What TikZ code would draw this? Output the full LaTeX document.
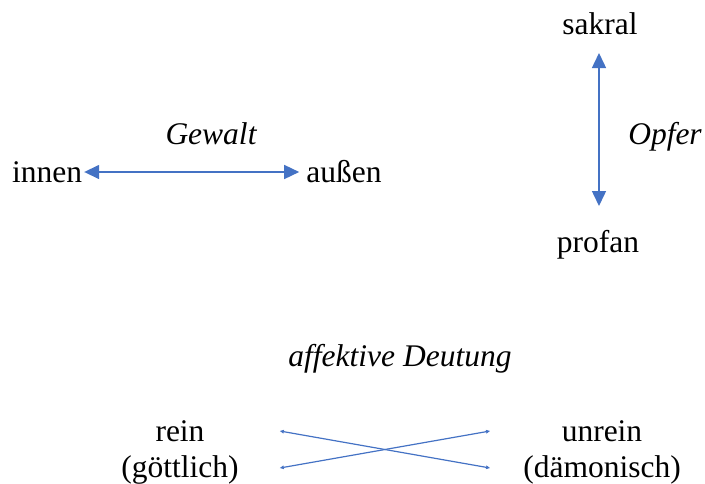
\documentclass[tikz,border=0pt]{standalone}
\usepackage{fontspec}
\setmainfont{Liberation Serif}
\usetikzlibrary{arrows.meta,calc}
\definecolor{officeblue}{HTML}{4472C4}
\begin{document}
\begin{tikzpicture}[x=1pt,y=-1pt,
  lbl/.style={inner sep=0pt,font=\fontsize{31.5}{36}\selectfont},
  ital/.style={lbl,font=\fontsize{31.5}{36}\selectfont\itshape},
  bigarrow/.style={draw=officeblue,line width=1.5pt,{Triangle[length=15pt,width=14pt]}-{Triangle[length=15pt,width=14pt]}},
  smallarrow/.style={draw=officeblue,line width=1.2pt,{Triangle[length=4pt,width=3.5pt]}-{Triangle[length=4pt,width=3.5pt]}}]
\useasboundingbox (0,0) rectangle (705,483);
\node[lbl,anchor=base] (innen) at (47,182) {innen};
\node[lbl,anchor=base] (aussen) at (344,182) {außen};
\node[ital,anchor=base] (gewalt) at (211,144) {Gewalt};
\node[lbl,anchor=base] (sakral) at (600,34) {sakral};
\node[lbl,anchor=base] (profan) at (598,252) {profan};
\node[ital,anchor=base] (opfer) at (665,144) {Opfer};
\node[ital,anchor=base] (deutung) at (400,366) {affektive Deutung};
\node[lbl,align=center] (rein) at (180,452) {rein\\(göttlich)};
\node[lbl,align=center] (unrein) at (602,452) {unrein\\(dämonisch)};
\draw[bigarrow] ($(innen.base east)+(2,-10)$) -- ($(aussen.base west)+(-7,-10)$);
\draw[bigarrow] ($(sakral.base)+(-1,19)$) -- ($(sakral.base)+(-1,172)$);
\draw[smallarrow] ($(rein.east)+(41,-21)$) -- ($(unrein.west)+(-33,16)$);
\draw[smallarrow] ($(rein.east)+(41,16)$) -- ($(unrein.west)+(-33,-21)$);
\end{tikzpicture}
\end{document}
